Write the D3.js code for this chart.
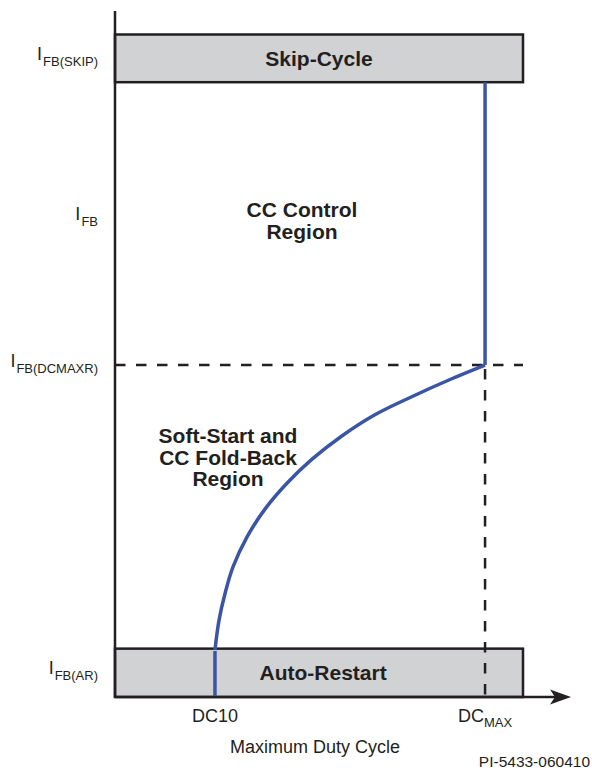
<!DOCTYPE html>
<html>
<head>
<meta charset="utf-8">
<script src="https://cdn.jsdelivr.net/npm/d3@7"></script>
<style>
  body { margin: 0; background: #fff; }
  svg { display: block; font-family: "Liberation Sans", Arial, sans-serif; }
</style>
</head>
<body>
<div id="chart"></div>
<script>
// feedback current levels (fraction of axis height)
var levelSubs = ["FB(AR)", "FB", "FB(DCMAXR)", "FB(SKIP)"];
var levelValues = [0.037, 0.722, 0.501, 0.964];

// duty cycle ticks (fraction of box width)
var dutyTicks = ["DC10", "DC"];
var dutySubs = ["", "MAX"];
var dutyValues = [0.245, 0.907];

// operating bands
var bandNames = ["Skip-Cycle", "Auto-Restart"];
var bandLow = [0.928, 0];
var bandHigh = [1, 0.073];

// fold-back curve
var curveX = [0.245, 0.255, 0.270, 0.289, 0.324, 0.368, 0.422, 0.483, 0.556, 0.637, 0.730, 0.824, 0.907];
var curveY = [0.071, 0.116, 0.157, 0.196, 0.242, 0.284, 0.323, 0.359, 0.394, 0.426, 0.454, 0.480, 0.501];

var width = 592, height = 777;
var ink = "#231f20", blue = "#3a55a4";

var svg = d3.select("#chart")
    .append("svg")
    .attr("width", width)
    .attr("height", height);

var x = d3.scaleLinear().domain([0, 1]).range([115, 523]);
var y = d3.scaleLinear().domain([0, 1]).range([697, 34.5]);

// bands
svg.append("g")
    .selectAll("rect")
    .data(bandNames)
    .enter()
    .append("rect")
    .attr("x", x(0))
    .attr("y", (d, i) => y(bandHigh[i]))
    .attr("width", x(1) - x(0))
    .attr("height", (d, i) => y(bandLow[i]) - y(bandHigh[i]))
    .attr("fill", "#d1d2d4")
    .attr("stroke", ink)
    .attr("stroke-width", 2.5);

svg.append("g")
    .selectAll("text")
    .data(bandNames)
    .enter()
    .append("text")
    .attr("x", (d, i) => i == 0 ? x(0.5) : x(0.51))
    .attr("y", (d, i) => y((bandLow[i] + bandHigh[i]) / 2) + 7.5)
    .attr("text-anchor", "middle")
    .attr("font-size", 21)
    .attr("font-weight", "bold")
    .attr("fill", ink)
    .text(d => d);

// dashed guides
var dcmax = dutyValues[1], dcmaxr = levelValues[2];
svg.append("line")
    .attr("x1", x(0)).attr("x2", x(1))
    .attr("y1", y(dcmaxr)).attr("y2", y(dcmaxr))
    .attr("stroke", ink).attr("stroke-width", 2.5)
    .attr("stroke-dasharray", "10.5,10.5");
svg.append("line")
    .attr("x1", x(dcmax)).attr("x2", x(dcmax))
    .attr("y1", y(dcmaxr)).attr("y2", y(0))
    .attr("stroke", ink).attr("stroke-width", 2.5)
    .attr("stroke-dasharray", "10.5,10.5")
    .attr("stroke-dashoffset", -4);

// axes
svg.append("line")
    .attr("x1", x(0)).attr("x2", x(0))
    .attr("y1", 11).attr("y2", y(0) + 1)
    .attr("stroke", ink).attr("stroke-width", 2.5);
svg.append("line")
    .attr("x1", x(0)).attr("x2", 558)
    .attr("y1", y(0)).attr("y2", y(0))
    .attr("stroke", ink).attr("stroke-width", 2.5);
svg.append("path")
    .attr("d", `M571,${y(0)} L550,${y(0) - 7.5} L555,${y(0)} L550,${y(0) + 7.5} Z`)
    .attr("fill", ink);

// control curve
var line = d3.line()
    .x(d => x(d[0]))
    .y(d => y(d[1]))
    .curve(d3.curveCatmullRom.alpha(0.5));

svg.append("path")
    .datum(curveX.map((v, i) => [v, curveY[i]]))
    .attr("d", line)
    .attr("fill", "none")
    .attr("stroke", blue)
    .attr("stroke-width", 3.5);

svg.append("line")
    .attr("x1", x(curveX[0])).attr("x2", x(curveX[0]))
    .attr("y1", y(curveY[0]) + 1).attr("y2", y(0) - 1)
    .attr("stroke", blue).attr("stroke-width", 3.5);
svg.append("line")
    .attr("x1", x(dcmax)).attr("x2", x(dcmax))
    .attr("y1", y(dcmaxr)).attr("y2", y(bandLow[0]))
    .attr("stroke", blue).attr("stroke-width", 3.5);

// y labels
var ylab = svg.append("g")
    .selectAll("text")
    .data(levelSubs)
    .enter()
    .append("text")
    .attr("x", 98)
    .attr("y", (d, i) => y(levelValues[i]) + 1.5)
    .attr("text-anchor", "end")
    .attr("font-size", 18)
    .attr("fill", ink);
ylab.append("tspan").text("I");
ylab.append("tspan")
    .attr("dx", 1)
    .attr("dy", 6)
    .attr("font-size", 13)
    .text(d => d);

// x labels
var xlab = svg.append("g")
    .selectAll("text")
    .data(dutyTicks)
    .enter()
    .append("text")
    .attr("x", (d, i) => x(dutyValues[i]))
    .attr("y", 722)
    .attr("text-anchor", "middle")
    .attr("font-size", 18)
    .attr("fill", ink);
xlab.append("tspan").text(d => d);
xlab.append("tspan")
    .attr("dy", 5)
    .attr("font-size", 13)
    .text((d, i) => dutySubs[i]);

svg.append("text")
    .attr("x", 315).attr("y", 753)
    .attr("text-anchor", "middle")
    .attr("font-size", 18)
    .attr("fill", ink)
    .text("Maximum Duty Cycle");

svg.append("text")
    .attr("x", 590).attr("y", 767)
    .attr("text-anchor", "end")
    .attr("font-size", 15.5)
    .attr("fill", ink)
    .text("PI-5433-060410");

// region labels
function block(lines, cx, y0) {
    svg.append("g")
        .selectAll("text")
        .data(lines)
        .enter()
        .append("text")
        .attr("x", cx)
        .attr("y", (d, i) => y0 + i * 21.5)
        .attr("text-anchor", "middle")
        .attr("font-size", 21)
        .attr("font-weight", "bold")
        .attr("fill", ink)
        .text(d => d);
}
block(["CC Control", "Region"], 302, 217);
block(["Soft-Start and", "CC Fold-Back", "Region"], 228, 443);
</script>
</body>
</html>
